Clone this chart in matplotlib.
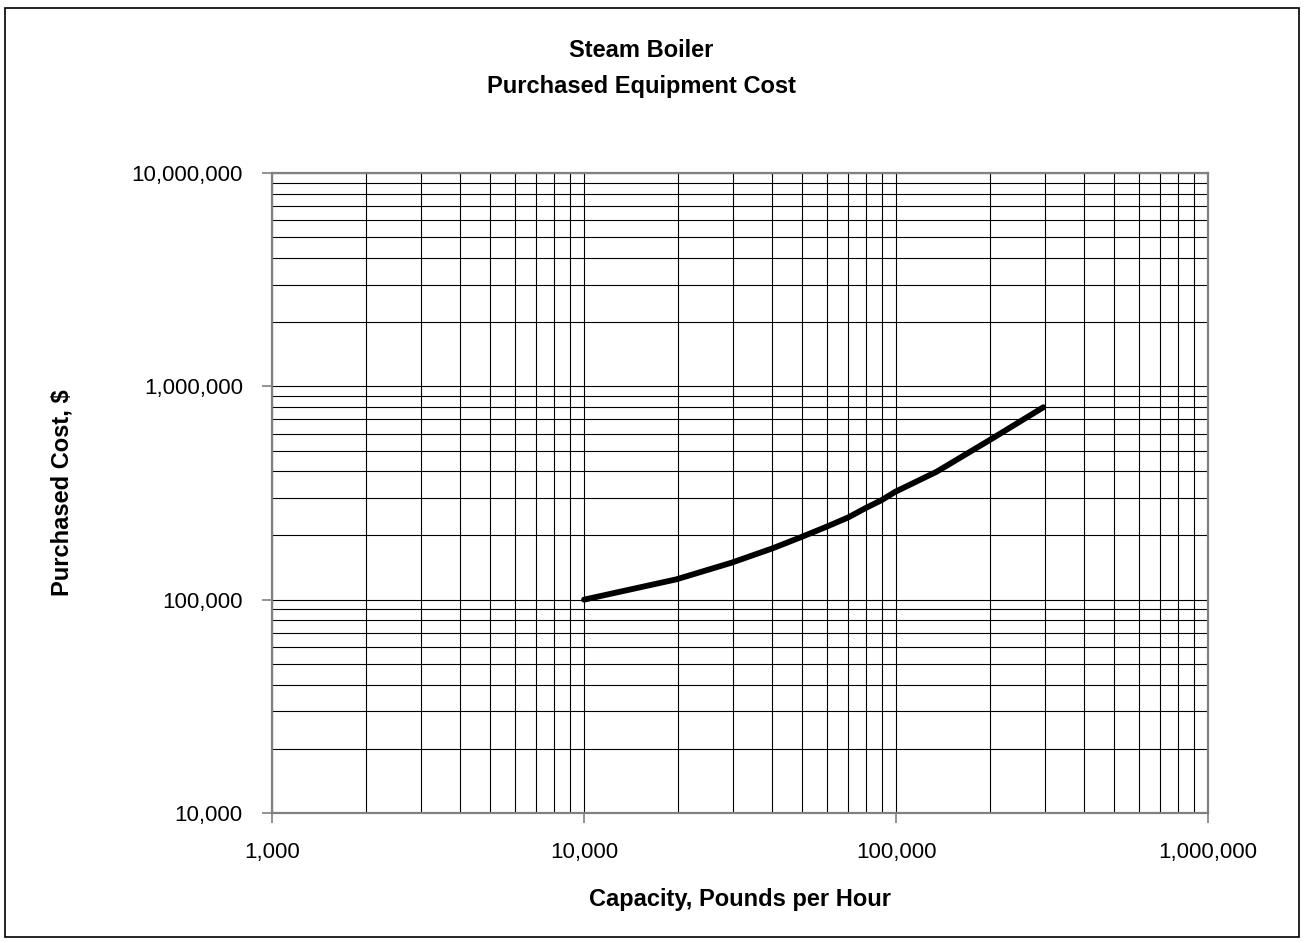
import numpy as np
import matplotlib.pyplot as plt
from matplotlib.ticker import FuncFormatter, LogLocator
from matplotlib.patches import Rectangle

# capacity (lb/h) and purchased cost ($)
capacity = [10000, 19800, 29700, 40200, 50100, 60000, 70300, 79600,
            90000, 99300, 135000, 200000, 296700]
cost = [100000, 124600, 149000, 174000, 197500, 220000, 243000, 268000,
        293000, 320000, 398000, 561000, 798000]

plt.rcParams['font.family'] = ['Liberation Sans', 'DejaVu Sans']

fig = plt.figure(figsize=(13.04, 9.43), dpi=100)
ax = fig.add_axes([0.2086, 0.1379, 0.7178, 0.6786])

ax.plot(capacity, cost, color='black', linewidth=4.2, solid_capstyle='round',
        solid_joinstyle='round')

ax.set_xscale('log')
ax.set_yscale('log')
ax.set_xlim(1000, 1000000)
ax.set_ylim(10000, 10000000)

fmt = FuncFormatter(lambda v, p: f'{v:,.0f}')
ax.xaxis.set_major_formatter(fmt)
ax.yaxis.set_major_formatter(fmt)
ax.xaxis.set_minor_locator(LogLocator(base=10, subs=np.arange(2, 10)))
ax.yaxis.set_minor_locator(LogLocator(base=10, subs=np.arange(2, 10)))
ax.xaxis.set_minor_formatter(plt.NullFormatter())
ax.yaxis.set_minor_formatter(plt.NullFormatter())

ax.grid(True, which='both', color='black', linewidth=0.8)
ax.set_axisbelow(True)

for s in ax.spines.values():
    s.set_color('#808080')
    s.set_linewidth(1.6)

ax.tick_params(axis='both', which='major', length=7, width=1.2, color='#808080',
               labelsize=16, pad=14)
ax.tick_params(axis='both', which='minor', length=0)

ax.set_xlabel('Capacity, Pounds per Hour', fontsize=17, fontweight='bold',
              labelpad=18)
ax.set_ylabel('Purchased Cost, $', fontsize=17, fontweight='bold', labelpad=42)

fig.text(0.492, 0.927, 'Steam Boiler\nPurchased Equipment Cost', ha='center',
         va='center', fontsize=17, fontweight='bold', linespacing=1.72)

fig.patches.append(Rectangle((0.004, 0.006), 0.992, 0.986, transform=fig.transFigure,
                             fill=False, edgecolor='black', linewidth=1.2))

fig.savefig('out.png', dpi=100)
